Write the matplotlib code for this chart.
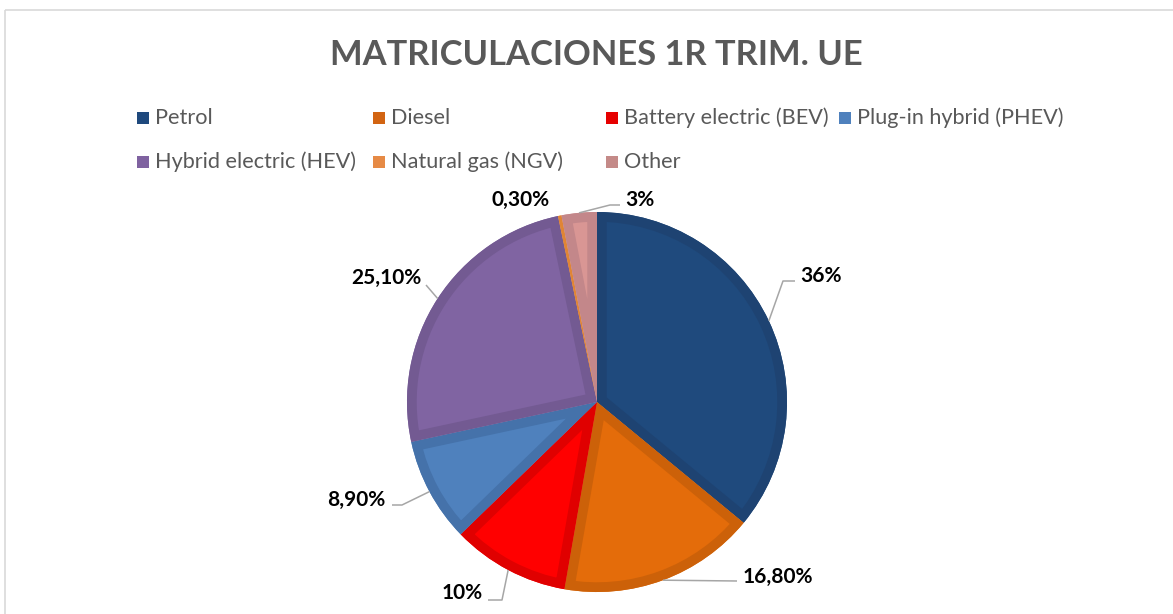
import matplotlib
matplotlib.use('Agg')
import matplotlib.pyplot as plt
from matplotlib.patches import Rectangle, Wedge
import numpy as np

categories = ['Petrol', 'Diesel', 'Battery electric (BEV)', 'Plug-in hybrid (PHEV)',
              'Hybrid electric (HEV)', 'Natural gas (NGV)', 'Other']
shares = [36, 16.8, 10, 8.9, 25.1, 0.3, 3]
labels = ['36%', '16,80%', '10%', '8,90%', '25,10%', '0,30%', '3%']

fill_colors = ['#1F4A7D', '#E46C0A', '#FF0000', '#4F81BD', '#8064A2', '#F79646', '#D99694']
band_colors = ['#1E4372', '#CC6109', '#E00000', '#4572AA', '#735A92', '#E08535', '#C3878A']
legend_colors = ['#1F497D', '#D26412', '#E60000', '#4F81BD', '#7F62A0', '#E68A45', '#C48A88']

W, H = 1173, 614
FONT = 'Lato'
GREY = '#595959'

fig = plt.figure(figsize=(W / 100, H / 100), dpi=100)
ax = fig.add_axes([0, 0, 1, 1])

# pixel-like coords with y pointing down -> visual clockwise from the top
center = (597, 402)
radius = 190
wedges, _ = ax.pie(shares, colors=fill_colors, center=center, radius=radius,
                   startangle=-90, counterclock=True,
                   wedgeprops=dict(linewidth=0))
for w, bc in zip(wedges, band_colors):
    band = Wedge(w.center, w.r, w.theta1, w.theta2, facecolor='none',
                 edgecolor=bc, linewidth=14)
    band.set_clip_path(w)
    ax.add_patch(band)

ax.set_xlim(0, W)
ax.set_ylim(H, 0)
ax.set_aspect('auto')
ax.axis('off')

# chart frame
ax.add_patch(Rectangle((5, 10), W, H, facecolor='none', edgecolor='#D9D9D9', lw=1.2))

ax.text(596, 55, 'MATRICULACIONES 1R TRIM. UE', ha='center', va='center',
        fontsize=24.8, fontweight='bold', color=GREY, family=FONT)

# legend, laid out like the Excel one
leg_x = [137, 373, 606, 839, 137, 373, 606]
leg_y = [118, 118, 118, 118, 162, 162, 162]
for name, c, lx, ly in zip(categories, legend_colors, leg_x, leg_y):
    ax.add_patch(Rectangle((lx, ly - 6), 12, 12, facecolor=c, edgecolor='none'))
    ax.text(lx + 18, ly, name, ha='left', va='center', fontsize=15.6,
            color=GREY, family=FONT)

# data labels with leader lines
text_pos = [(800, 276, 'left'), (743, 577, 'left'), (483, 593, 'right'),
            (385, 500, 'right'), (421, 278, 'right'), (521, 200, 'center'),
            (625, 200, 'left')]
leader_tail = [[(783, 281), (795, 281)], [(737, 581)], [(502, 600), (488, 600)],
               [(402, 505), (392, 505)], [(426, 285)], None,
               [(610, 205), (620, 205)]]
for w, lab, (tx, ty, ha), tail in zip(wedges, labels, text_pos, leader_tail):
    mid = np.deg2rad((w.theta1 + w.theta2) / 2)
    ax_x = center[0] + radius * np.cos(mid)
    ax_y = center[1] + radius * np.sin(mid)
    if tail:
        xs = [ax_x] + [p[0] for p in tail]
        ys = [ax_y] + [p[1] for p in tail]
        ax.plot(xs, ys, color='#A6A6A6', lw=1.1, solid_capstyle='butt')
    ax.text(tx, ty, lab, ha=ha, va='center', fontsize=15, fontweight='bold',
            color='black', family=FONT)

fig.savefig('out.png', dpi=100)
